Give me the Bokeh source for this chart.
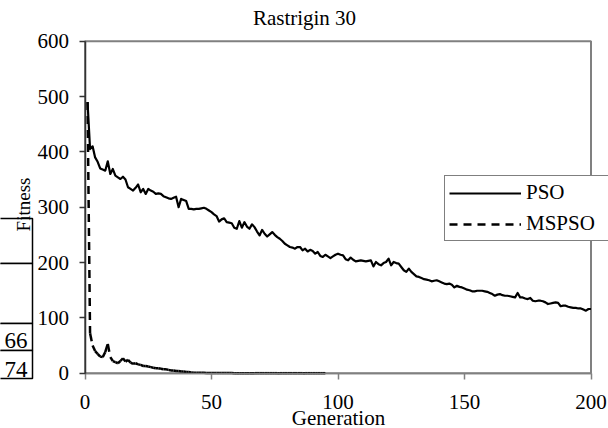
import math
from bokeh.plotting import figure
from bokeh.models import (Range1d, Legend, LegendItem, BoxAnnotation, Label,
                          FixedTicker, LinearAxis)
from bokeh.embed import file_html
from bokeh.resources import INLINE

title_text = "Rastrigin 30"
x_label = "Generation"
y_label = "Fitness"
x_ticks = [0, 50, 100, 150, 200]
y_ticks = [0, 100, 200, 300, 400, 500, 600]

pso = [490, 405, 410, 390, 382, 370, 368, 366, 383, 360,
       369, 357, 354, 351, 355, 350, 336, 333, 330, 335,
       341, 327, 333, 324, 333, 330, 328, 324, 325, 324,
       320, 318, 316, 315, 317, 319, 300, 315, 313, 311,
       297, 297, 296, 297, 297, 298, 299, 297, 294, 291,
       287, 284, 274, 278, 280, 273, 272, 271, 263, 261,
       275, 263, 273, 265, 261, 269, 264, 256, 249, 259,
       252, 247, 251, 255, 250, 246, 243, 239, 234, 231,
       228, 227, 225, 228, 228, 222, 225, 220, 223, 221,
       216, 219, 212, 210, 214, 211, 208, 211, 214, 216,
       214, 213, 206, 204, 209, 205, 202, 203, 204, 203,
       202, 203, 204, 193, 201, 197, 195, 199, 201, 207,
       195, 201, 199, 198, 192, 186, 183, 189, 183, 179,
       175, 174, 172, 170, 169, 168, 166, 167, 168, 166,
       164, 162, 161, 162, 160, 155, 158, 156, 155, 153,
       151, 150, 148, 148, 149, 149, 149, 148, 147, 145,
       143, 140, 142, 143, 141, 140, 140, 139, 138, 137,
       145, 137, 137, 135, 134, 136, 131, 130, 131, 131,
       130, 128, 125, 126, 127, 128, 127, 121, 122, 122,
       120, 119, 118, 118, 117, 117, 115, 113, 116, 116]
pso_gen = list(range(1, len(pso) + 1))

mspso = [490, 72, 50, 40, 35, 30, 29, 38, 53, 29,
         22, 20, 18, 22, 27, 21, 24, 19, 17, 18,
         16, 15, 13, 13, 12, 11, 10, 9, 9, 8,
         7, 7, 6, 5, 5, 4, 4, 3, 3, 2,
         2, 1.5, 1, 1, 0.8, 0.7, 0.6, 0.5, 0.5, 0.4,
         0.4, 0.3, 0.3, 0.3, 0.2, 0.2, 0.2, 0.2, 0.1, 0.1,
         0.1, 0.1, 0.1, 0.1, 0.1, 0.1, 0.05, 0.05, 0.05, 0.05,
         0.05, 0.05, 0.05, 0.05, 0.05, 0.05, 0.02, 0.02, 0.02, 0.02,
         0.02, 0.02, 0.02, 0.02, 0.02, 0.02, 0.01, 0.01, 0.01, 0.01,
         0.01, 0.01, 0.01, 0.01, 0.01]
mspso_gen = list(range(1, len(mspso) + 1))

table_texts = ["66", "74"]

FONT = "Liberation Serif"
FS = "21px"

# ---- pixel layout of the canvas (the frame fills the whole canvas) ----
W, H = 608, 428
L, R, T, B = 84.5, 590.5, 40.7, 372.7   # pixels of the plot-area corners
x0, x1 = x_ticks[0], x_ticks[-1]
y0, y1 = y_ticks[0], y_ticks[-1]
sx = (R - L) / (x1 - x0)
sy = (B - T) / (y1 - y0)


def dx(px):
    return x0 + (px - L) / sx


def dy(py):
    return y0 + (B - py) / sy


def text_label(px, py, text, align="center", angle=0.0, size=FS):
    return Label(x=dx(px), y=dy(py), text=text, text_align=align,
                 text_baseline="middle", angle=angle,
                 text_font=FONT, text_font_size=size, text_color="black")


p = figure(width=W, height=H, output_backend="svg", toolbar_location=None,
           x_range=Range1d(dx(0), dx(W)), y_range=Range1d(dy(H), dy(0)),
           x_axis_location=None, y_axis_location=None, min_border=0,
           background_fill_color="white", border_fill_color="white")
p.title.visible = False
p.outline_line_color = None
p.grid.visible = False

# plot-area border
p.quad(left=[x0], right=[x1], bottom=[y0], top=[y1], fill_color=None,
       line_color="#808080", line_width=2)

xaxis = LinearAxis(fixed_location=y0, ticker=FixedTicker(ticks=x_ticks),
                   bounds=(x0, x1), axis_label=x_label)
yaxis = LinearAxis(fixed_location=x0, ticker=FixedTicker(ticks=y_ticks),
                   bounds=(y0, y1))
for ax in (xaxis, yaxis):
    ax.major_label_text_font = FONT
    ax.major_label_text_font_size = FS
    ax.major_label_text_color = "black"
    ax.axis_label_text_font = FONT
    ax.axis_label_text_font_size = FS
    ax.axis_label_text_font_style = "normal"
    ax.axis_label_text_color = "black"
    ax.minor_tick_line_color = None
    ax.major_tick_in = 0
    ax.major_tick_out = 6
    ax.axis_line_width = 1.5
    ax.major_tick_line_width = 1.5
xaxis.axis_line_color = "#808080"
xaxis.major_tick_line_color = "#808080"
yaxis.axis_line_color = "#333333"
yaxis.major_tick_line_color = "#333333"
xaxis.major_label_standoff = 16
xaxis.axis_label_standoff = -7
yaxis.major_label_standoff = 10
p.add_layout(xaxis, "below")
p.add_layout(yaxis, "left")

r1 = p.line(pso_gen, pso, line_color="black", line_width=2.2, line_join="round")
# Excel restarts the dash pattern on every segment
ms_xs = [[mspso_gen[i], mspso_gen[i + 1]] for i in range(len(mspso) - 1)]
ms_ys = [[mspso[i], mspso[i + 1]] for i in range(len(mspso) - 1)]
r2 = p.multi_line(ms_xs, ms_ys, line_color="black", line_width=2.5, line_dash="8 6")

legend = Legend(items=[LegendItem(label="PSO", renderers=[r1]),
                       LegendItem(label="MSPSO", renderers=[r2])],
                location=(444, H - 241), orientation="vertical",
                padding=4, spacing=6, margin=0,
                glyph_width=72, glyph_height=22, label_height=22,
                label_width=100, label_standoff=5,
                label_text_font=FONT, label_text_font_size=FS, label_text_color="black",
                border_line_color="black", border_line_width=1,
                background_fill_color="white", background_fill_alpha=1.0)
p.add_layout(legend)

# chart title (centred on the whole chart, like the original)
p.add_layout(text_label(W / 2, 17, title_text))

# partially visible table at the left edge, overlapping the chart
row_edges = [218, 263, 323, 350, 378]
for i in range(len(row_edges) - 1):
    p.add_layout(BoxAnnotation(left=dx(-10), right=dx(32),
                               top=dy(row_edges[i]), bottom=dy(row_edges[i + 1]),
                               fill_color="white", fill_alpha=1.0,
                               line_color="black", line_width=1.5, line_alpha=1.0))
p.add_layout(text_label(27, 340, table_texts[0], align="right", size="23px"))
p.add_layout(text_label(27, 369, table_texts[1], align="right", size="23px"))

# y-axis title, drawn last so that it shows over the table edge
p.add_layout(text_label(23, 204, y_label, angle=math.pi / 2, size="19px"))

open("out.html", "w").write(file_html(p, INLINE))
